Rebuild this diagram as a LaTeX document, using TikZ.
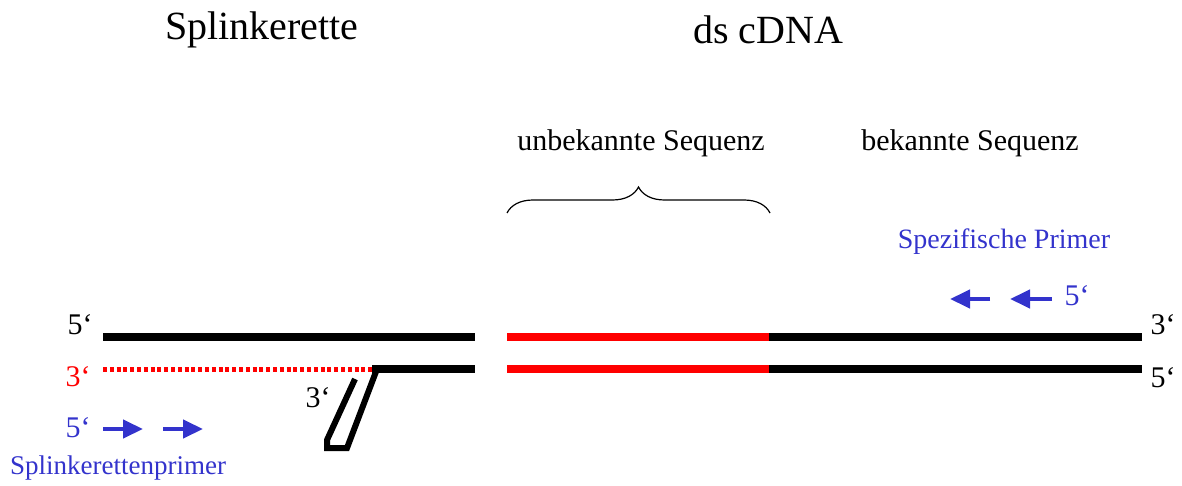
\documentclass[tikz,border=0pt]{standalone}
\usepackage{fontspec}
\setmainfont{Liberation Serif}
\usetikzlibrary{arrows.meta,decorations.pathreplacing}
\definecolor{primerblue}{RGB}{51,51,204}

\begin{document}
\begin{tikzpicture}[x=0.5pt, y=-0.5pt,
    strand/.style={line width=4pt},
    endlabel/.style={font=\fontsize{15}{18}\selectfont, inner sep=0pt},
    primer/.style={primerblue, line width=2.2pt, -{Triangle[length=10pt, width=9pt]}},
    titlelabel/.style={font=\fontsize{20}{24}\selectfont},
    seqlabel/.style={font=\fontsize{15}{18}\selectfont}]

    \useasboundingbox (0,0) rectangle (1182,486);

    % Titles
    \node[titlelabel] (splk) at (262,30) {Splinkerette};
    \node[titlelabel] (cdna) at (768,30) {ds cDNA};
    \node[seqlabel] (unbek) at (641,143) {unbekannte Sequenz};
    \node[seqlabel] (bek) at (970,143) {bekannte Sequenz};

    % Brace over unknown part
    \draw[line width=0.6pt, decorate, decoration={brace, amplitude=13pt}] (507,213) -- (770,213);

    % Strand ends
    \coordinate (topA) at (103,337);
    \coordinate (topB) at (475,337);
    \coordinate (topC) at (507,337);
    \coordinate (topD) at (769,337);
    \coordinate (topE) at (1142,337);
    \coordinate (botA) at (103,369);
    \coordinate (botK) at (372,369);
    \coordinate (botB) at (475,369);
    \coordinate (botC) at (507,369);
    \coordinate (botD) at (769,369);
    \coordinate (botE) at (1142,369);

    % Splinkerette
    \draw[strand] (topA) -- (topB);
    \draw[red, line width=2.5pt, dash pattern=on 2pt off 1.4pt] (botA) -- (botK);
    \draw[strand] (botK) -- (botB);
    \draw[line width=3pt] (355,379) -- (327,440) -- (327,448) -- (347,448) -- (377,369);

    % ds cDNA
    \draw[strand, red] (topC) -- (topD);
    \draw[strand] (topD) -- (topE);
    \draw[strand, red] (botC) -- (botD);
    \draw[strand] (botD) -- (botE);

    % End labels
    \node[endlabel] (l5) at (80,325) {5‘};
    \node[endlabel, red] (l3) at (78,377) {3‘};
    \node[endlabel] (h3) at (318,398) {3‘};
    \node[endlabel] (r3) at (1163,325) {3‘};
    \node[endlabel] (r5) at (1163,378) {5‘};

    % Splinkerette primer
    \node[endlabel, primerblue] (p5) at (78,428) {5‘};
    \coordinate (pa1) at (103,429);
    \coordinate (pa2) at (143,429);
    \coordinate (pb1) at (163,429);
    \coordinate (pb2) at (203,429);
    \draw[primer] (pa1) -- (pa2);
    \draw[primer] (pb1) -- (pb2);
    \node[primerblue, font=\fontsize{13.5}{16}\selectfont] (sprim) at (118,468) {Splinkerettenprimer};

    % Specific primers
    \node[primerblue, font=\fontsize{14}{17}\selectfont] (gsp) at (1004,242) {Spezifische Primer};
    \node[endlabel, primerblue] (q5) at (1077,296) {5‘};
    \coordinate (qa1) at (1052,299);
    \coordinate (qa2) at (1010,299);
    \coordinate (qb1) at (990,299);
    \coordinate (qb2) at (950,299);
    \draw[primer] (qa1) -- (qa2);
    \draw[primer] (qb1) -- (qb2);
\end{tikzpicture}
\end{document}
